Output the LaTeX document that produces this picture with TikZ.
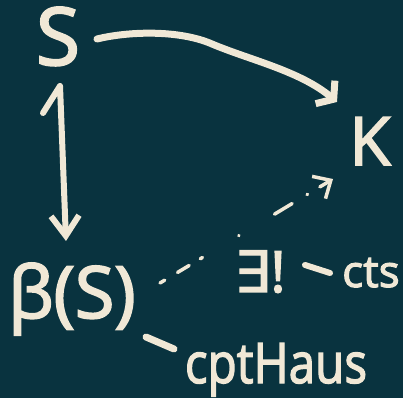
\documentclass[tikz,border=0pt]{standalone}
\usepackage{fontspec}
\setmainfont{Open Sans}[FakeBold=2.5]
\newfontfamily\symfont{DejaVu Sans}[FakeBold=2]
\usetikzlibrary{arrows.meta}
\definecolor{bg}{HTML}{09333F}
\definecolor{ink}{HTML}{F0E8D6}
\begin{document}
\begin{tikzpicture}[x=1pt,y=1pt,
  lbl/.style={text=ink, inner sep=0pt, anchor=base},
  hand/.style={draw=ink, line width=7pt, line cap=round, line join=round},
  thin/.style={draw=ink, line width=3.5pt, line cap=round, line join=round}]
\fill[bg] (0,0) rectangle (403,398);
\useasboundingbox (0,0) rectangle (403,398);
% nodes
\node[lbl, font=\fontsize{80}{80}\selectfont] (S) at (58,333) {S};
\node[lbl, font=\fontsize{67}{67}\selectfont] (K) at (370,233) {K};
\node[lbl, font=\fontsize{72}{72}\selectfont] (B) at (72,80) {β(S)};
\node[lbl, font=\fontsize{57}{57}\selectfont] (E) at (260,106) {{\symfont ∃}!};
\node[lbl, font=\fontsize{44}{44}\selectfont] (C) at (371,111) {cts};
\node[lbl, font=\fontsize{56}{56}\selectfont, xscale=0.85] (H) at (276,15) {cptHaus};
% S -> K
\draw[hand, -{Straight Barb[length=11pt,width=30pt]}]
  ([shift={(39,26)}]S.base) .. controls (130,367) and (180,368) .. (212,354)
  .. controls (250,338) and (300,327) .. ([shift={(-33,63)}]K.base);
% S -> beta(S)
\coordinate (tick) at ([shift={(-15,-48)}]S.base);
\draw[hand, line width=6pt, -{Straight Barb[length=20pt,width=28pt]}]
  (tick) -- ([shift={(2,-21)}]S.base) -- ([shift={(-6,77)}]B.base);
% dashed beta(S) -> K
\draw[thin, dash pattern=on 5.5pt off 15pt on 13.5pt off 13pt on 2.5pt off 42.5pt on 0.1pt off 41.5pt on 20.5pt off 17.5pt on 0.5pt off 14.5pt on 13.5pt,
  -{Straight Barb[length=14pt,width=26pt]}]
  ([shift={(88,35)}]B.base) -- ([shift={(-37,-14)}]K.base);
% tags
\draw[hand, line width=6pt] ([shift={(-66,22)}]C.base) -- ([shift={(-41,14)}]C.base);
\draw[hand] ([shift={(-130,46)}]H.base) -- ([shift={(-102,34)}]H.base);
\end{tikzpicture}
\end{document}
